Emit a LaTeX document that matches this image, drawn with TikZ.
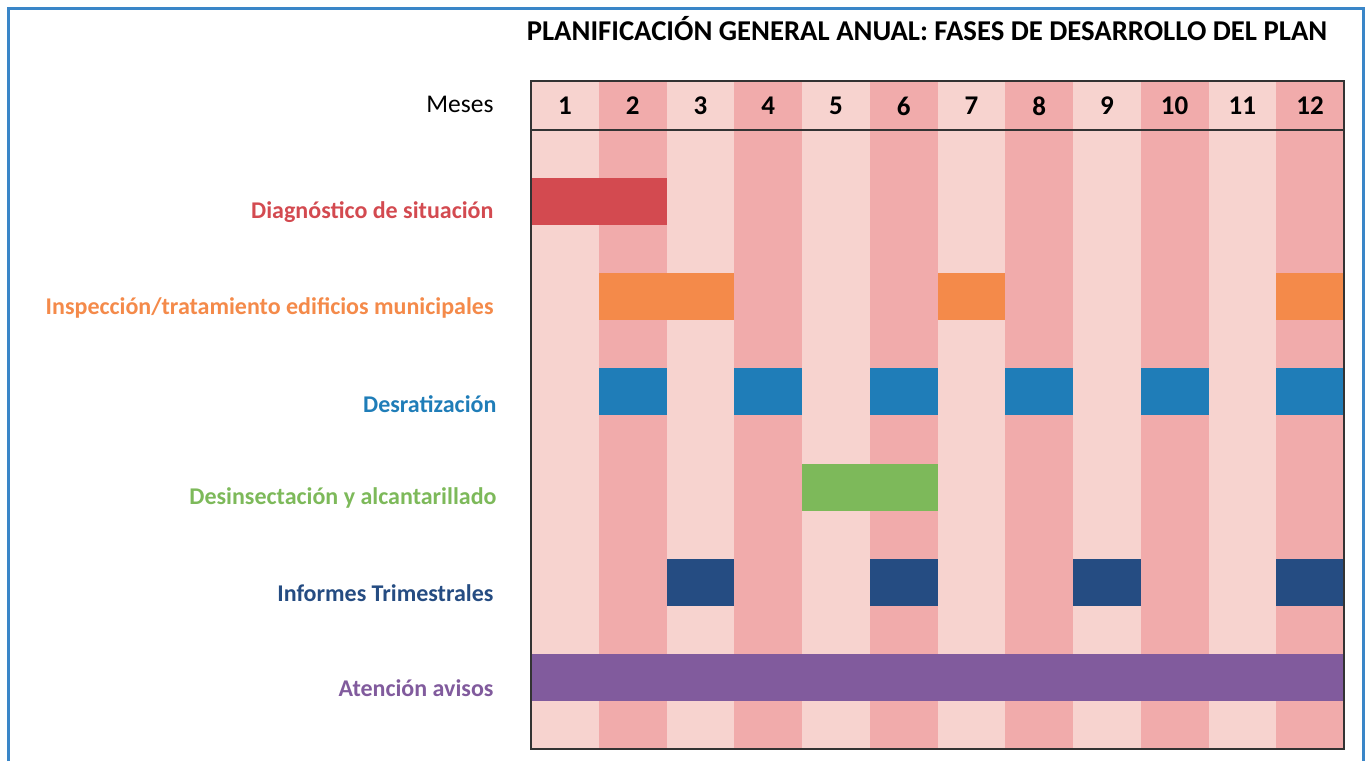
\documentclass[tikz,border=0pt]{standalone}
\usepackage{fontspec}
\setmainfont{Carlito}
\usepackage{tikz}
\usetikzlibrary{positioning}

\definecolor{frameblue}{HTML}{3A86C8}
\definecolor{mesclaro}{HTML}{F7D3CF}
\definecolor{mesoscuro}{HTML}{F1ABAB}
\definecolor{diagred}{HTML}{D34A50}
\definecolor{insporange}{HTML}{F48A4A}
\definecolor{ratblue}{HTML}{1F7DB8}
\definecolor{insgreen}{HTML}{7DB95A}
\definecolor{infblue}{HTML}{254C82}
\definecolor{avipurple}{HTML}{815B9D}

% bar of one phase: row, first month, last month, colour
\newcommand{\phasebar}[4]{%
  \fill[#4] ({531+(#2-1)*67.75},{201.5+(#1-1)*95.2-23.5})
    rectangle ({531+#3*67.75},{201.5+(#1-1)*95.2+23.5});}

\begin{document}
\begin{tikzpicture}[x=1pt,y=-1pt,
  phase/.style={anchor=east, font=\bfseries\fontsize{24}{28}\selectfont},
  month/.style={font=\bfseries\fontsize{27}{31}\selectfont}]
\useasboundingbox (0,0) rectangle (1367,761);

% Frame
\draw[line width=3pt, frameblue] (8,761) -- (8,8) -- (1363,8) -- (1363,761);

% Title
\node[font=\bfseries\fontsize{28.7}{33}\selectfont] (title) at (927,29)
  {PLANIFICACIÓN GENERAL ANUAL: FASES DE DESARROLLO DEL PLAN};

% Month columns
\fill[mesclaro] (531,81) rectangle (1344,749);
\foreach \m in {2,4,...,12}{
  \fill[mesoscuro] ({531+(\m-1)*67.75},81) rectangle ({531+\m*67.75},749);
}

% Phases
\phasebar{1}{1}{2}{diagred}
\phasebar{2}{2}{3}{insporange}
\phasebar{2}{7}{7}{insporange}
\phasebar{2}{12}{12}{insporange}
\foreach \m in {2,4,...,12}{
  \phasebar{3}{\m}{\m}{ratblue}
}
\phasebar{4}{5}{6}{insgreen}
\foreach \m in {3,6,9,12}{
  \phasebar{5}{\m}{\m}{infblue}
}
\phasebar{6}{1}{12}{avipurple}

% Table lines
\draw[line width=1.5pt, black!80] (531,81) rectangle (1344,749);
\draw[line width=1.5pt, black!80] (531,130) -- (1344,130);

% Month numbers
\node[anchor=east, font=\fontsize{25.5}{30}\selectfont] (meses) at (497,104) {Meses};
\foreach \m in {1,...,12}{
  \node[month] (m\m) at ({531+(\m-0.5)*67.75},106) {\m};
}

% Labels
\node[phase, diagred] (diag) at (497,212) {Diagnóstico de situación};
\node[phase, insporange] (insp) at (497,308) {Inspección/tratamiento edificios municipales};
\node[phase, ratblue] (desrat) at (500,404) {Desratización};
\node[phase, insgreen] (desins) at (500,498) {Desinsectación y alcantarillado};
\node[phase, infblue] (inform) at (497,593) {Informes Trimestrales};
\node[phase, avipurple] (avisos) at (497,688) {Atención avisos};
\end{tikzpicture}
\end{document}
